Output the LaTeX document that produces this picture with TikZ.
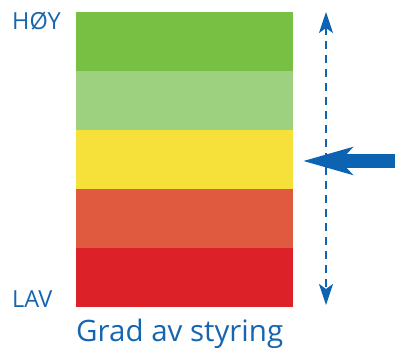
\documentclass[tikz,border=0pt]{standalone}
\usepackage{fontspec}
\setmainfont{Open Sans}
\usepackage{tikz}
\usetikzlibrary{arrows.meta}
\usepackage{xcolor}
\definecolor{hoygreen}{HTML}{77C043}
\definecolor{lightgreen}{HTML}{9DD07F}
\definecolor{midyellow}{HTML}{F6E13A}
\definecolor{lightred}{HTML}{E05A40}
\definecolor{lavred}{HTML}{DC2128}
\definecolor{textblue}{HTML}{1565B0}
\definecolor{arrowblue}{HTML}{0B63B2}

\tikzset{
  band/.style={fill=#1, draw=none, minimum width=217pt, minimum height=59pt, inner sep=0pt, anchor=north west},
  label/.style={text=textblue, inner sep=0pt, anchor=base west}
}

\begin{document}
\begin{tikzpicture}[x=1pt, y=-1pt]
    \useasboundingbox (0,0) rectangle (395,347);
    % Felter
    \foreach \c [count=\i] in {hoygreen, lightgreen, midyellow, lightred, lavred}
        \node[band=\c] (band\i) at (76,{12+59*(\i-1)}) {};
    % Tekster
    \node[label, font=\fontsize{23.5}{26}\selectfont] (hoy) at (12,30) {HØY};
    \node[label, font=\fontsize{23.5}{26}\selectfont] (lav) at (12,307) {LAV};
    \node[label, font=\fontsize{29.5}{32}\selectfont] (grad) at (76,341) {Grad av styring};
    % Skala
    \coordinate (top) at (326,12);
    \coordinate (bottom) at (326,305);
    \draw[arrowblue, line width=2pt, dash pattern=on 8pt off 6pt,
          {Stealth[length=21pt, width=14pt, inset=5pt]}-{Stealth[length=21pt, width=14pt, inset=5pt]}]
          (top) -- (bottom);
    % Pil
    \coordinate (from) at (395,161);
    \coordinate (tip) at (303,161);
    \draw[arrowblue, line width=14pt, -{Stealth[length=49pt, width=27pt, inset=12pt]}] (from) -- (tip);
\end{tikzpicture}
\end{document}
